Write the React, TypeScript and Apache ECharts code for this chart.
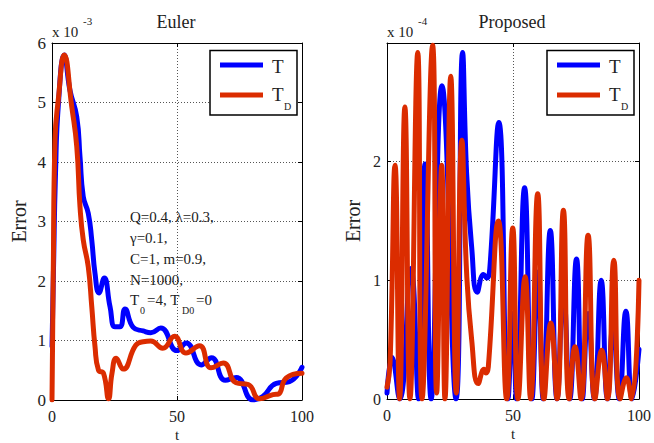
import React, { useEffect, useRef } from "react";
import * as echarts from "echarts";

const FONT = "'Liberation Serif', 'DejaVu Serif', serif";
const TEXT = "#222";
const BLUE = "#0000FF";
const RED = "#DB2C00";

// Euler scheme, error in units of 1e-3
const eulerT_t = [0, 0.6, 1.4, 2.6, 4.9, 7.2, 9.9, 11.2, 12.5, 14.5, 15.9, 17.2, 18.8, 20.9, 23.2, 25.2, 27.2, 29.2, 32.5, 36.5, 39.5, 43.5, 50.0, 53.7, 59.7, 63.8, 69.3, 73.7, 80.4, 84.3, 89.7, 95.0, 100];
const eulerT_v = [0.9, 2.2, 3.8, 5.0, 5.8, 5.2, 4.76, 4.09, 3.42, 3.14, 2.69, 2.13, 1.8, 2.05, 1.57, 1.23, 1.23, 1.53, 1.22, 1.16, 1.13, 1.21, 0.83, 0.96, 0.59, 0.71, 0.33, 0.38, 0.0, 0.06, 0.28, 0.31, 0.55];
const eulerTD_t = [0, 0.5, 1.2, 2.5, 4.9, 7.9, 9.9, 11.2, 12.5, 14.5, 15.9, 17.2, 18.6, 20.6, 22.6, 24.0, 25.7, 28.5, 33.5, 36.5, 39.5, 44.3, 49.0, 53.6, 59.0, 63.6, 68.5, 73.6, 78.5, 83.0, 88.4, 90.5, 93.7, 100];
const eulerTD_v = [0, 2.13, 4.37, 5.04, 5.8, 4.93, 4.26, 3.25, 2.69, 2.24, 1.57, 0.9, 0.5, 0.45, 0.02, 0.45, 0.7, 0.52, 0.92, 0.98, 0.99, 0.87, 1.07, 0.79, 0.91, 0.54, 0.62, 0.29, 0.26, 0.02, 0.09, 0.1, 0.37, 0.45];

// Proposed scheme, error in units of 1e-4
const propT_t = [0, 2.0, 5.0, 9.5, 12.5, 15.1, 17.5, 21.8, 27.4, 30.0, 31.6, 33.6, 35.8, 38.3, 39.6, 40.8, 44.4, 48.0, 49.9, 51.4, 54.6, 57.5, 59.9, 62.0, 64.8, 67.5, 70.0, 72.5, 75.2, 77.5, 79.8, 82.3, 85.0, 87.5, 89.7, 92.2, 94.8, 97.3, 100];
const propT_v = [0.05, 0.35, 0, 1.1, 0, 1.98, 0, 2.64, 0, 2.92, 1.9, 1.28, 0.9, 1.05, 1.02, 1.1, 2.33, 0, 0.72, 0, 1.78, 0, 1.07, 0, 1.42, 0, 0.9, 0, 1.18, 0, 0.72, 0, 1.0, 0, 0.62, 0, 0.74, 0, 0.42];
const propTD_t = [0, 1.2, 3.2, 5.0, 7.1, 9.1, 12.2, 13.9, 18.1, 19.7, 21.7, 23.0, 25.3, 27.5, 29.7, 31.6, 33.6, 36.2, 38.5, 39.3, 40.2, 44.2, 47.5, 49.9, 52.0, 54.8, 57.0, 59.8, 62.3, 65.0, 67.5, 70.0, 72.3, 74.6, 77.0, 79.8, 82.5, 85.2, 87.5, 90.0, 92.5, 95.0, 97.0, 100];
const propTD_v = [0.1, 0.3, 1.97, 0, 2.46, 0, 2.92, 0, 2.98, 0.05, 1.97, 0, 2.72, 0.05, 2.18, 1.06, 0.5, 0.13, 0.25, 0.22, 0.27, 1.5, 0, 1.44, 0, 1.03, 0, 1.73, 0, 0.64, 0, 1.59, 0, 0.44, 0, 1.38, 0, 0.41, 0, 1.17, 0, 0.18, 0, 1.0];

const titles = ["Euler", "Proposed"];
const exponents = ["-3", "-4"];
const yMaxes = [6, 3];
const paramLines = ["Q=0.4, λ=0.3,", "γ=0.1,", "C=1, m=0.9,", "N=1000,"];

const zip = (t: number[], v: number[]) => t.map((x, i) => [x, v[i]]);

const grids = [
  { left: 52, top: 43, width: 250, height: 357 },
  { left: 387, top: 43, width: 252, height: 356 },
];

const dotted = { color: "#555", type: [1, 2] as number[], width: 1 };
const frame = { color: "#000", width: 1 };

function xAxes(gridIndex: number) {
  const base = {
    type: "value",
    gridIndex,
    min: 0,
    max: 100,
    interval: 50,
    axisLine: { show: true, onZero: false, lineStyle: frame },
    axisTick: { show: true, inside: true, length: 4, lineStyle: frame },
  };
  return [
    {
      ...base,
      position: "bottom",
      axisLabel: { color: TEXT, fontSize: 16, fontFamily: FONT, margin: 8 },
      splitLine: { show: true, lineStyle: dotted },
      name: "t",
      nameLocation: "middle",
      nameGap: 27,
      nameMoveOverlap: false,
      nameTextStyle: { color: TEXT, fontSize: 15, fontFamily: FONT },
    },
    { ...base, position: "top", axisLabel: { show: false }, splitLine: { show: false } },
  ];
}

function yAxes(gridIndex: number, max: number) {
  const base = {
    type: "value",
    gridIndex,
    min: 0,
    max,
    interval: 1,
    axisLine: { show: true, onZero: false, lineStyle: frame },
    axisTick: { show: true, inside: true, length: 4, lineStyle: frame },
  };
  return [
    {
      ...base,
      position: "left",
      axisLabel: {
        color: TEXT,
        fontSize: gridIndex === 0 ? 17 : 16,
        fontFamily: FONT,
        margin: 6,
        showMaxLabel: gridIndex === 0,
      },
      splitLine: { show: true, lineStyle: dotted },
      name: "Error",
      nameLocation: "middle",
      nameRotate: 90,
      nameGap: gridIndex === 0 ? 23 : 24,
      nameTextStyle: { color: TEXT, fontSize: 20, fontFamily: FONT },
    },
    { ...base, position: "right", axisLabel: { show: false }, splitLine: { show: false } },
  ];
}

function lineSeries(name: string, color: string, axis: number, data: number[][]) {
  return {
    type: "line",
    name,
    xAxisIndex: axis,
    yAxisIndex: axis,
    data,
    smooth: 0.5,
    showSymbol: false,
    symbol: "none",
    lineStyle: { color, width: 5, cap: "round", join: "round" },
    itemStyle: { color },
  };
}

function txt(x: number, y: number, text: string, size: number, align = "left", extra: any = {}) {
  return {
    type: "text",
    x,
    y,
    z: 100,
    style: {
      text,
      fill: TEXT,
      font: `${size}px ${FONT}`,
      align,
      textAlign: align,
      verticalAlign: "middle",
      textVerticalAlign: "middle",
      ...extra,
    },
  };
}

function legendBox(x0: number) {
  return [
    {
      type: "rect",
      z: 90,
      shape: { x: x0, y: 50.5, width: 87, height: 64.5 },
      style: { fill: "#fff", stroke: "#000", lineWidth: 1.5 },
    },
    {
      type: "line",
      z: 95,
      shape: { x1: x0 + 10, y1: 65, x2: x0 + 53, y2: 65 },
      style: { stroke: BLUE, lineWidth: 5 },
    },
    {
      type: "line",
      z: 95,
      shape: { x1: x0 + 10, y1: 95, x2: x0 + 53, y2: 95 },
      style: { stroke: RED, lineWidth: 5 },
    },
    txt(x0 + 62, 66, "T", 19),
    txt(x0 + 62, 94, "T", 19),
    txt(x0 + 74, 106, "D", 10),
  ];
}

export default function App() {
  const ref = useRef<HTMLDivElement>(null);

  useEffect(() => {
    if (!ref.current) return;
    const chart = echarts.init(ref.current, undefined, { renderer: "svg" });

    const graphics: any[] = [];
    titles.forEach((t, i) => {
      const g = grids[i];
      graphics.push(txt(g.left + g.width / 2 - 1, 22, t, 18, "center"));
      graphics.push(txt(g.left, 32, "x 10", 15));
      graphics.push(txt(g.left + 31, 21, exponents[i], 11));
    });
    graphics.push(...legendBox(210));
    graphics.push(...legendBox(547));
    paramLines.forEach((line, i) => {
      graphics.push(txt(130, 217 + i * 21, line, 15));
    });
    graphics.push(txt(130, 300, "T", 15));
    graphics.push(txt(140, 310, "0", 10));
    graphics.push(txt(147, 300, "=4, T", 15));
    graphics.push(txt(182, 310, "D0", 10));
    graphics.push(txt(196, 300, "=0", 15));

    chart.setOption({
      animation: false,
      backgroundColor: "#fff",
      grid: grids.map((g) => ({ ...g, containLabel: false, outerBoundsMode: "none" })),
      xAxis: [...xAxes(0), ...xAxes(1)],
      yAxis: [...yAxes(0, yMaxes[0]), ...yAxes(1, yMaxes[1])],
      series: [
        lineSeries("T", BLUE, 0, zip(eulerT_t, eulerT_v)),
        lineSeries("T_D", RED, 0, zip(eulerTD_t, eulerTD_v)),
        lineSeries("T", BLUE, 2, zip(propT_t, propT_v)),
        lineSeries("T_D", RED, 2, zip(propTD_t, propTD_v)),
      ],
      graphic: graphics,
    });

    return () => chart.dispose();
  }, []);

  return (
    <div
      ref={ref}
      style={{ position: "fixed", left: 0, top: 0, width: 654, height: 443, background: "#fff" }}
    />
  );
}
